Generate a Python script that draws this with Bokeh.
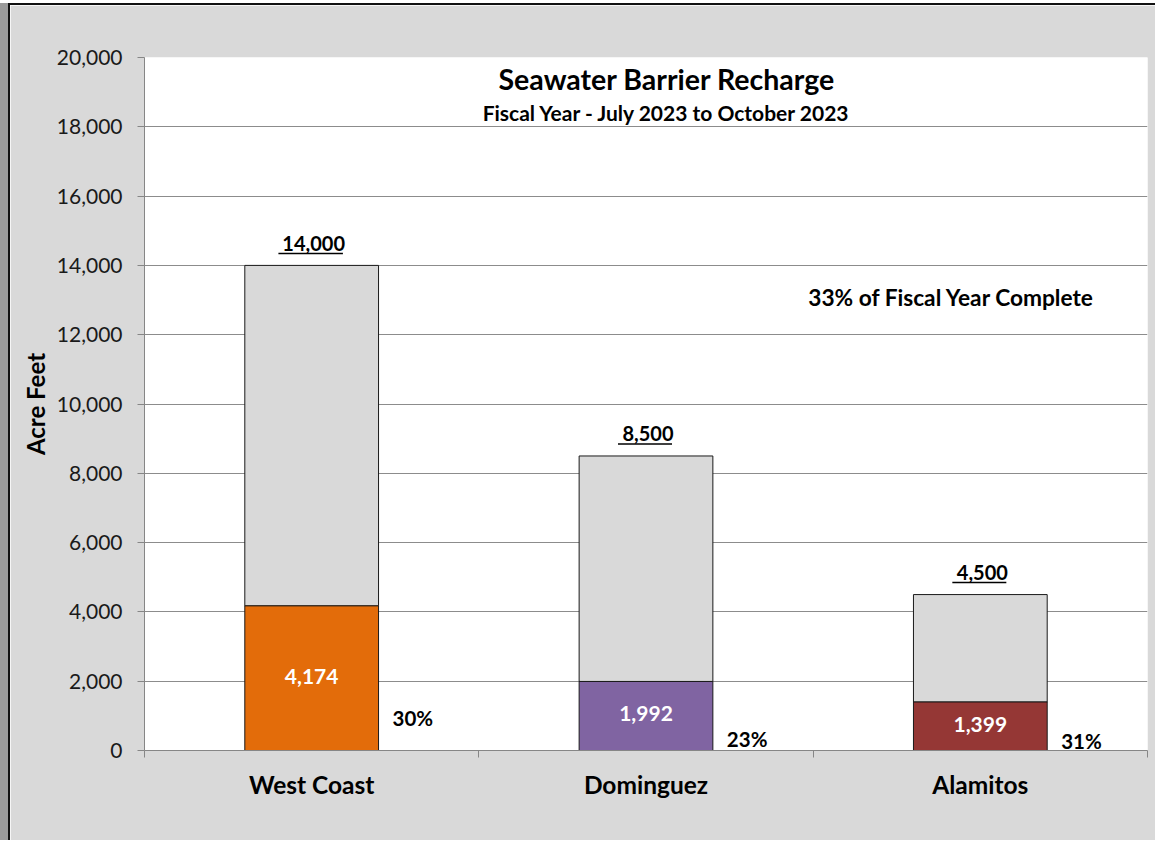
from bokeh.plotting import figure
from bokeh.models import ColumnDataSource, Range1d, FixedTicker, NumeralTickFormatter
from bokeh.core.properties import value
from bokeh.embed import file_html
from bokeh.resources import INLINE

# ---- data ----
categories = ["West Coast", "Dominguez", "Alamitos"]
targets = [14000, 8500, 4500]
actuals = [4174, 1992, 1399]
colors = ["#E36C0A", "#8064A2", "#953735"]
y_ticks = list(range(0, 20001, 2000))
title_text = "Seawater Barrier Recharge"
subtitle_text = "Fiscal Year - July 2023 to October 2023"
note_text = "33% of Fiscal Year Complete"
# vertical placement of percentage labels (data units)
pct_label_y = [950, 330, 260]

FONT = "Lato"
W, H = 1147, 837
ML, MR, MT, MB = 134, 10, 52, 92
frame_w = W - ML - MR
frame_h = H - MT - MB

xs = [i + 1 for i in range(len(categories))]
px_per_x = frame_w / 3.0
px_per_y = frame_h / 20000.0

p = figure(width=W, height=H, output_backend="svg", toolbar_location=None,
           x_range=Range1d(0.5, 3.5), y_range=Range1d(0, 20000),
           min_border_left=ML, min_border_right=MR, min_border_top=MT, min_border_bottom=MB)
p.border_fill_color = "#D9D9D9"
p.background_fill_color = "white"
p.outline_line_color = None
p.styles = {"margin-top": "3px", "margin-left": "8px",
            "border-top": "2px solid #111111", "border-left": "2px solid #111111",
            "box-shadow": "-8px 0px 0px 0px #9A9A9A"}

# bars
src = ColumnDataSource(dict(x=xs, total=targets, actual=actuals, color=colors,
                            actual_lbl=[f"{v:,}" for v in actuals],
                            total_lbl=[f"{v:,}" for v in targets],
                            pct_lbl=[f"{round(a / t * 100):d}%" for a, t in zip(actuals, targets)],
                            pct_y=pct_label_y,
                            mid=[a / 2 for a in actuals]))
p.vbar(x="x", width=0.4, bottom="actual", top="total", source=src,
       fill_color="#D9D9D9", line_color="#1A1A1A", line_width=1)
p.vbar(x="x", width=0.4, bottom=0, top="actual", source=src,
       fill_color="color", line_color="#1A1A1A", line_width=1)

# labels inside bars
p.text(x="x", y="mid", text="actual_lbl", source=src, text_color="white",
       text_font=value(FONT), text_font_size="21px", text_font_style="bold",
       text_align="center", text_baseline="middle", y_offset=-2)
# total labels with underline
p.text(x="x", y="total", text="total_lbl", source=src, text_color="black",
       text_font=value(FONT), text_font_size="20px", text_font_style="bold",
       text_align="center", text_baseline="middle", x_offset=2, y_offset=-22)
ul_x0, ul_x1, ul_y = [], [], []
for x, t in zip(xs, targets):
    s = f"{t:,}"
    w = 10.5 * sum(c.isdigit() for c in s) + 6 * s.count(",")
    ul_x0.append(x + (-w / 2 - 6 + 2) / px_per_x)
    ul_x1.append(x + (w / 2 + 2) / px_per_x)
    ul_y.append(t + 12 / px_per_y)
p.segment(x0=ul_x0, x1=ul_x1, y0=ul_y, y1=ul_y, line_color="black", line_width=1.5)

# percentage labels
p.text(x="x", y="pct_y", text="pct_lbl", source=src, text_color="black",
       text_font=value(FONT), text_font_size="20.5px", text_font_style="bold",
       text_align="left", text_baseline="middle", x_offset=0.2 * px_per_x + 14)

# titles
xc = 2.0 + 21 / px_per_x
p.text(x=[xc], y=[20000 - 21 / px_per_y], text=[title_text],
       text_font=value(FONT), text_font_size="28.5px", text_font_style="bold",
       text_align="center", text_baseline="middle", text_color="black")
p.text(x=[xc], y=[20000 - 55 / px_per_y], text=[subtitle_text],
       text_font=value(FONT), text_font_size="21px", text_font_style="bold",
       text_align="center", text_baseline="middle", text_color="black")
p.text(x=[3.5 - 196 / px_per_x], y=[20000 - 240 / px_per_y], text=[note_text],
       text_font=value(FONT), text_font_size="22.7px", text_font_style="bold",
       text_align="center", text_baseline="middle", text_color="black")

# axes
AX = "#868686"
p.xgrid.visible = False
p.ygrid.ticker = FixedTicker(ticks=y_ticks)
p.ygrid.grid_line_color = "#8C8C8C"
p.ygrid.grid_line_width = 1

yax = p.yaxis[0]
yax.ticker = FixedTicker(ticks=y_ticks, minor_ticks=[])
yax.formatter = NumeralTickFormatter(format="0,0")
yax.axis_line_color = AX
yax.major_tick_line_color = AX
yax.major_tick_out = 7
yax.major_tick_in = 0
yax.minor_tick_line_color = None
yax.major_label_text_font = FONT
yax.major_label_text_font_size = "21px"
yax.major_label_text_color = "#1A1A1A"
yax.major_label_standoff = 15
yax.axis_label = "Acre Feet"
yax.axis_label_text_font = FONT
yax.axis_label_text_font_size = "24px"
yax.axis_label_text_font_style = "bold"
yax.axis_label_text_color = "black"
yax.axis_label_standoff = 4

xax = p.xaxis[0]
xax.ticker = FixedTicker(ticks=xs, minor_ticks=[0.5 + i for i in range(len(xs) + 1)])
xax.major_label_overrides = {x: c for x, c in zip(xs, categories)}
xax.axis_line_color = AX
xax.major_tick_line_color = None
xax.major_tick_out = 0
xax.major_tick_in = 0
xax.minor_tick_line_color = AX
xax.minor_tick_out = 7
xax.minor_tick_in = 0
xax.major_label_text_font = FONT
xax.major_label_text_font_size = "24.5px"
xax.major_label_text_font_style = "bold"
xax.major_label_text_color = "black"
xax.major_label_standoff = 12

open("out.html", "w").write(file_html(p, INLINE))
